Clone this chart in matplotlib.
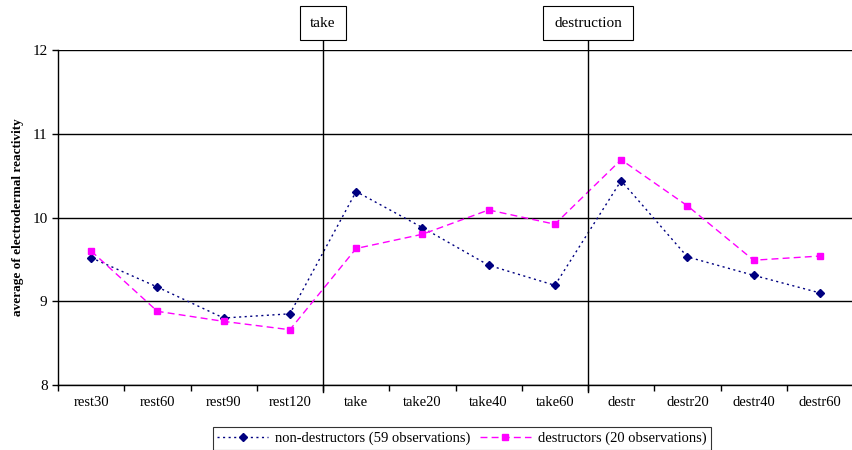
import matplotlib.pyplot as plt

# data
categories = ["rest30", "rest60", "rest90", "rest120", "take", "take20",
              "take40", "take60", "destr", "destr20", "destr40", "destr60"]
non_destructors = [9.52, 9.17, 8.80, 8.85, 10.31, 9.88, 9.43, 9.19, 10.44, 9.53, 9.31, 9.10]
destructors = [9.60, 8.88, 8.76, 8.66, 9.63, 9.80, 10.09, 9.92, 10.69, 10.14, 9.49, 9.54]
events = ["take", "destruction"]
event_pos = [3.5, 7.5]

plt.rcParams["font.family"] = ["Liberation Serif", "DejaVu Serif"]

fig = plt.figure(figsize=(8.53, 4.5), dpi=100)
ax = fig.add_axes([0.068, 0.1444, 0.932, 0.7445])

x = list(range(len(categories)))
ax.plot(x, non_destructors, color="#000080", linestyle=(0, (1.5, 2.5)), linewidth=1,
        marker="D", markersize=4, label="non-destructors (59 observations)")
ax.plot(x, destructors, color="#FF00FF", linestyle=(0, (5, 3)), linewidth=1,
        marker="s", markersize=5, label="destructors (20 observations)")

ax.set_xlim(-0.5, 11.5)
ax.set_ylim(8, 12)
ax.set_yticks([8, 9, 10, 11, 12])
ax.set_xticks(x)
ax.set_xticklabels(categories, fontsize=10.5)
ax.tick_params(axis="y", labelsize=11, length=4, width=1)
ax.tick_params(axis="x", length=0, pad=8)
ax.set_xticks([i - 0.5 for i in range(13)], minor=True)
ax.tick_params(axis="x", which="minor", length=4, width=1)
ax.grid(axis="y", color="black", linewidth=1)
ax.set_axisbelow(True)
for s in ["top", "right"]:
    ax.spines[s].set_visible(False)
ax.spines["left"].set_linewidth(1)
ax.spines["bottom"].set_linewidth(1)

ax.set_ylabel("average of electrodermal reactivity", fontsize=9.5, fontweight="bold", labelpad=6)

# event markers: vertical lines with labelled boxes above the plot
for name, pos in zip(events, event_pos):
    ax.plot([pos, pos], [7.92, 12.14], color="black", linewidth=1, clip_on=False)
    ax.annotate(name, xy=(pos, 12.32), xycoords="data", ha="center", va="center",
                fontsize=11, annotation_clip=False,
                bbox=dict(boxstyle="square,pad=0.7", fc="white", ec="black", lw=0.8))

leg = ax.legend(loc="upper center", bbox_to_anchor=(0.508, -0.105), ncol=2, fontsize=10.5,
                frameon=True, fancybox=False, edgecolor="black", handlelength=3.5,
                borderpad=0.3, columnspacing=0.6, handletextpad=0.5)
leg.get_frame().set_linewidth(0.8)

fig.savefig("out.png", dpi=100)
